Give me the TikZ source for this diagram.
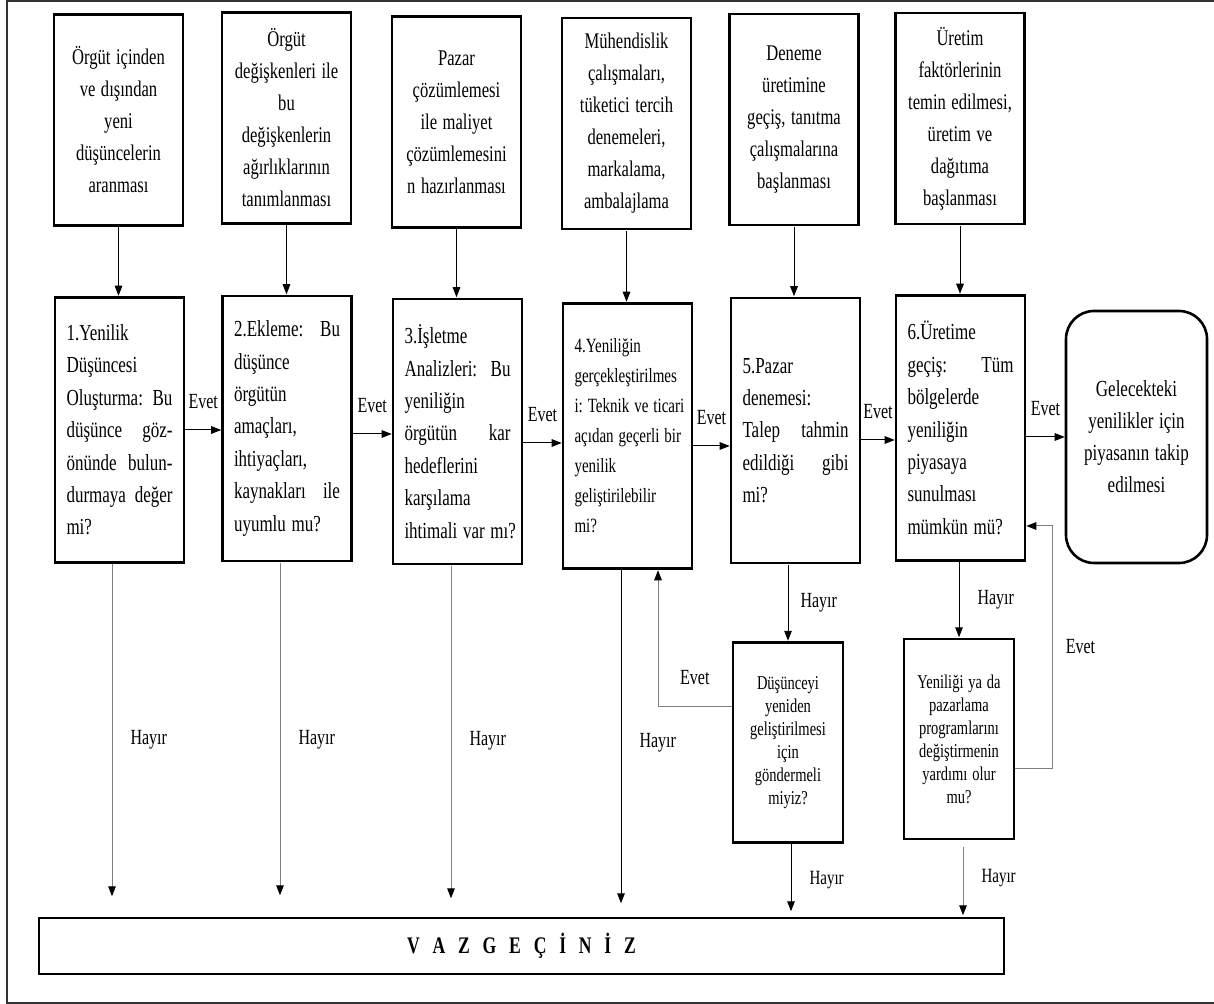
\documentclass[tikz,border=0pt]{standalone}
\usepackage{fontspec}
\setmainfont{Liberation Serif}
\usetikzlibrary{arrows.meta}
\frenchspacing

\newcommand{\vgap}{\hspace{6.4pt}}

\tikzset{
  box/.style={shape=rectangle, draw=black, line width=1.3pt, inner sep=1pt, yscale=1.35},
  topbox/.style={box, minimum width=64.5pt, minimum height=78.15pt, text width=58pt, align=center, font=\fontsize{8.3}{11.85}\selectfont},
  stepbox/.style={box, minimum width=64.5pt, minimum height=98.15pt, text width=53pt, align=left, font=\fontsize{8.5}{12}\selectfont},
  endbox/.style={box, rounded corners=14pt, minimum width=70.5pt, minimum height=93.33pt, text width=62pt, align=center, font=\fontsize{8.5}{11.85}\selectfont},
  smallbox/.style={box, minimum width=55pt, minimum height=74.07pt, text width=48pt, align=center, font=\fontsize{7.25}{8.5}\selectfont},
  lbl/.style={inner sep=0pt, yscale=1.35, font=\fontsize{8}{9}\selectfont},
  arr/.style={line width=0.5pt, -{Triangle[length=5pt, width=3.8pt]}},
  garr/.style={line width=0.5pt, draw=gray, -{Triangle[length=5pt, width=3.8pt, color=black]}},
}

\begin{document}
\begin{tikzpicture}[x=0.5pt, y=-0.5pt]
	\useasboundingbox (0,0) rectangle (1214,1004);
	\draw[line width=0.9pt, black!80] (7,1) rectangle (1240,1003);

	% top row
	\node[topbox] (T1) at (118.5,120) {Örgüt içinden\\ ve dışından\\ yeni\\ düşüncelerin\\ aranması};
	\node[topbox] (T2) at (286.5,118) {Örgüt\\ değişkenleri ile\\ bu\\ değişkenlerin\\ ağırlıklarının\\ tanımlanması};
	\node[topbox] (T3) at (456.5,122) {Pazar\\ çözümlemesi\\ ile maliyet\\ çözümlemesini\\ n hazırlanması};
	\node[topbox] (T4) at (626.5,123.5) {Mühendislik\\ çalışmaları,\\ tüketici tercih\\ denemeleri,\\ markalama,\\ ambalajlama};
	\node[topbox] (T5) at (794,119.5) {Deneme\\ üretimine\\ geçiş, tanıtma\\ çalışmalarına\\ başlanması};
	\node[topbox] (T6) at (960,118.5) {Üretim\\ faktörlerinin\\ temin edilmesi,\\ üretim ve\\ dağıtıma\\ başlanması};

	% steps
	\node[stepbox] (S1) at (119.5,430) {1.Yenilik\\ Düşüncesi\\ Oluşturma:\hfill Bu\\ düşünce\hfill göz-\\ önünde\hfill bulun-\\ durmaya\hfill değer\\ mi?};
	\node[stepbox] (S2) at (287,428.5) {2.Ekleme:\hfill Bu\\ düşünce\\ örgütün\\ amaçları,\\ ihtiyaçları,\\ kaynakları\hfill ile\\ uyumlu mu?};
	\node[stepbox] (S3) at (457.5,431.5) {3.İşletme\\ Analizleri:\hfill Bu\\ yeniliğin\\ örgütün\hfill kar\\ hedeflerini\\ karşılama\\ \mbox{ihtimali var mı?}};
	\node[stepbox, font=\fontsize{7.5}{11.1}\selectfont] (S4) at (627.5,436) {4.Yeniliğin\\ \mbox{gerçekleştirilmes}\\ \mbox{i: Teknik ve ticari}\\ \mbox{açıdan geçerli bir}\\ yenilik\\ geliştirilebilir\\ mi?};
	\node[stepbox] (S5) at (795.5,430.5) {5.Pazar\\ denemesi:\\ Talep\hfill tahmin\\ edildiği\hfill gibi\\ mi?};
	\node[stepbox] (S6) at (960.5,428) {6.Üretime\\ geçiş:\hfill Tüm\\ bölgelerde\\ yeniliğin\\ piyasaya\\ sunulması\\ mümkün mü?};
	\node[endbox] (F) at (1136.5,437) {Gelecekteki\\ yenilikler için\\ piyasanın takip\\ edilmesi};

	% second chances
	\node[smallbox] (R) at (788,742.5) {Düşünceyi\\ yeniden\\ geliştirilmesi\\ için\\ göndermeli\\ miyiz?};
	\node[smallbox] (M) at (959,739) {Yeniliği ya da\\ pazarlama\\ programlarını\\ değiştirmenin\\ yardımı olur\\ mu?};

	\node[box, minimum width=482.5pt, minimum height=20.74pt, font=\fontsize{8.8}{10}\selectfont\bfseries] (V) at (521.5,946) {V\vgap A\vgap Z\vgap G\vgap E\vgap Ç\vgap İ\vgap N\vgap İ\vgap Z};

	\path[arr] (T1.south) edge (T1.south |- S1.north);
	\path[arr] (T2.south) edge (T2.south |- S2.north);
	\path[arr] (T3.south) edge (T3.south |- S3.north);
	\path[arr] (T4.south) edge (T4.south |- S4.north);
	\path[arr] (T5.south) edge (T5.south |- S5.north);
	\path[arr] (T6.south) edge (T6.south |- S6.north);

	\path[arr] (S1.east) edge node[lbl, midway, above=7.5pt] {Evet} (S1.east -| S2.west);
	\path[arr] ([yshift=-2.75pt]S2.east) edge node[lbl, midway, above=7.5pt] {Evet} ([yshift=-2.75pt]S2.east -| S3.west);
	\path[arr] ([yshift=-5.75pt]S3.east) edge node[lbl, midway, above=7.5pt] {Evet} ([yshift=-5.75pt]S3.east -| S4.west);
	\path[arr] ([yshift=-5pt]S4.east) edge node[lbl, midway, above=7.5pt] {Evet} ([yshift=-5pt]S4.east -| S5.west);
	\path[arr] ([yshift=-4.75pt]S5.east) edge node[lbl, midway, above=7.5pt] {Evet} ([yshift=-4.75pt]S5.east -| S6.west);
	\path[arr] ([yshift=-4.5pt]S6.east) edge node[lbl, midway, above=7.5pt] {Evet} ([yshift=-4.5pt]S6.east -| F.west);

	\draw[garr, shorten >=10pt] ([xshift=-3.75pt]S1.south) -- node[lbl, midway, right=9pt] {Hayır} ([xshift=-3.75pt]S1.south |- V.north);
	\draw[garr, shorten >=10.5pt] ([xshift=-3.5pt]S2.south) -- node[lbl, midway, right=9pt] {Hayır} ([xshift=-3.5pt]S2.south |- V.north);
	\draw[garr, shorten >=9pt] ([xshift=-3.25pt]S3.south) -- node[lbl, midway, right=9pt] {Hayır} ([xshift=-3.25pt]S3.south |- V.north);
	\draw[arr, shorten >=6.5pt] ([xshift=-3.25pt]S4.south) -- node[lbl, midway, right=9pt] {Hayır} ([xshift=-3.25pt]S4.south |- V.north);

	\path[arr] (R.north |- S5.south) edge node[lbl, midway, right=6pt] {Hayır} (R.north);
	\path[arr] (M.north |- S6.south) edge node[lbl, midway, right=9pt] {Hayır} (M.north);
	\draw[arr, shorten >=2.5pt] ([xshift=1.5pt]R.south) -- node[lbl, midway, right=9pt, font=\fontsize{7.5}{9}\selectfont] {Hayır} ([xshift=1.5pt]R.south |- V.north);
	\draw[garr, shorten <=3pt, shorten >=0.5pt] ([xshift=2pt]M.south) -- node[lbl, midway, right=9pt, font=\fontsize{7.5}{9}\selectfont] {Hayır} ([xshift=2pt]M.south |- V.north);

	\draw[garr] ([yshift=18.25pt]R.west) -| node[lbl, pos=0.25, above=7.5pt] {Evet} ([xshift=15.25pt]S4.south);
	\draw[garr] ([yshift=-14.5pt]M.east) -- ++(18.5pt,0) |- node[lbl, pos=0.25, right=6.5pt] {Evet} ([yshift=-49pt]S6.east);
\end{tikzpicture}
\end{document}
